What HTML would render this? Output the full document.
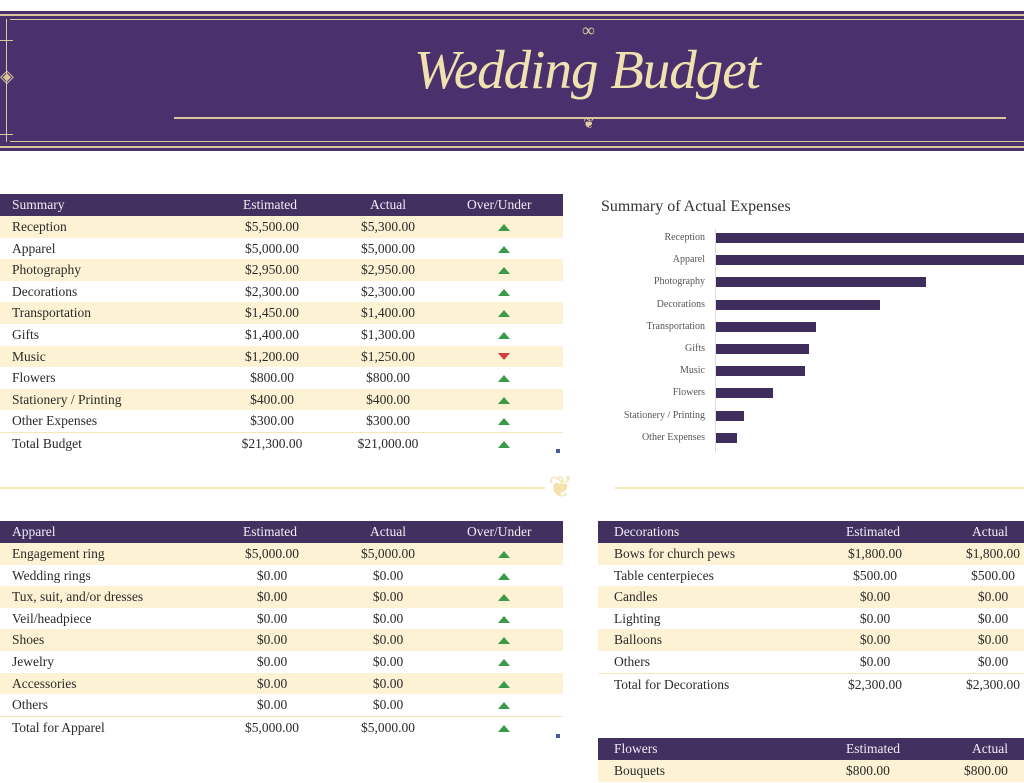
<!DOCTYPE html>
<html><head><meta charset="utf-8">
<style>
*{margin:0;padding:0;box-sizing:border-box}
body{width:1024px;height:777px;overflow:hidden;background:#fff;font-family:"Liberation Serif",serif;position:relative;color:#2a2a2a}
.banner{position:absolute;left:0;top:11px;width:1024px;height:140px;background:#4b306e;}
.ab{position:absolute}
.row{position:absolute;height:21.6px;font-size:13.5px;line-height:22.6px}
.hd{background:#413060;color:#f2ecf6}
.cr{background:#fdf2d3}
.c{position:absolute;white-space:nowrap}
.up{width:0;height:0;border-left:6px solid transparent;border-right:6px solid transparent;border-bottom:7px solid #3a9a4a;position:absolute;top:8px}
.dn{width:0;height:0;border-left:6px solid transparent;border-right:6px solid transparent;border-top:7px solid #d04040;position:absolute;top:7px}
.bar{position:absolute;left:716px;height:10px;background:#3f2d5e}
.lbl{position:absolute;right:319px;font-size:10px;color:#555;white-space:nowrap}
</style></head><body>
<div class="banner"></div>
<div class="ab" style="left:0;top:14px;width:1024px;height:2px;background:#d9c79a"></div>
<div class="ab" style="left:10px;top:19px;width:1014px;height:1px;background:#d9c79a"></div>
<div class="ab" style="left:0;top:146px;width:1024px;height:2px;background:#d9c79a"></div>
<div class="ab" style="left:10px;top:141px;width:1014px;height:1px;background:#d9c79a"></div>
<div class="ab" style="left:6px;top:19px;width:1px;height:123px;background:#d9c79a"></div>
<div class="ab" style="left:174px;top:117px;width:832px;height:2px;background:#d9c79a"></div>
<div class="ab" style="left:0;top:40px;width:13px;height:1px;background:#d9c79a"></div>
<div class="ab" style="left:0;top:134px;width:13px;height:1px;background:#d9c79a"></div>
<div class="ab" style="left:0;top:66px;color:#d9c79a;font-size:18px">◈</div>
<div class="ab" style="left:582px;top:20px;color:#e0cf9f;font-size:18px">∞</div>
<div class="ab" style="left:583px;top:116px;color:#e0cf9f;font-size:14px">❦</div>
<div class="ab" style="left:414px;top:38px;color:#f0e2b0;font-size:55px;font-style:italic;font-family:'Liberation Serif',serif;letter-spacing:-1px">Wedding Budget</div>

<div class="row hd" style="left:0;top:194px;width:563px"><span class="c" style="left:12px">Summary</span><span class="c" style="left:243px">Estimated</span><span class="c" style="left:370px">Actual</span><span class="c" style="left:467px">Over/Under</span></div>
<div id="sum"></div>

<div class="ab" style="left:0;top:487px;width:545px;height:2px;background:#f6e6b8"></div>
<div class="ab" style="left:615px;top:487px;width:409px;height:2px;background:#f6e6b8"></div>
<div class="ab" style="left:548px;top:470px;color:#f3e2aa;font-size:30px">❦</div>

<div class="ab" style="left:601px;top:198px;font-size:16px;color:#333">Summary of Actual Expenses</div>
<div class="ab" style="left:715px;top:229px;width:1px;height:223px;background:#ddd"></div>
<div id="chart"></div>

<div class="row hd" style="left:0;top:521px;width:563px"><span class="c" style="left:12px">Apparel</span><span class="c" style="left:243px">Estimated</span><span class="c" style="left:370px">Actual</span><span class="c" style="left:467px">Over/Under</span></div>
<div id="app"></div>

<div class="row hd" style="left:598px;top:521px;width:426px"><span class="c" style="left:16px">Decorations</span><span class="c" style="left:248px">Estimated</span><span class="c" style="left:374px">Actual</span></div>
<div id="dec"></div>

<div class="row hd" style="left:598px;top:738px;width:426px"><span class="c" style="left:16px">Flowers</span><span class="c" style="left:248px">Estimated</span><span class="c" style="left:374px">Actual</span></div>
<div class="row cr" style="left:598px;top:760px;width:426px"><span class="c" style="left:16px">Bouquets</span><span class="c" style="left:248px">$800.00</span><span class="c" style="left:366px">$800.00</span></div>

<script>
function tbl(id,top,rows,total){
 var h='';
 rows.forEach(function(r,i){
  var y=top+21.6*i, last=(i==rows.length-1&&total);
  var cls=last?'':(i%2==0?' cr':'');
  h+='<div class="row'+cls+'" style="left:0;top:'+y+'px;width:563px;'+(last?'border-top:1px solid #f6e6b8':'')+'">'+
  '<span class="c" style="left:12px">'+r[0]+'</span>'+
  '<span class="c" style="left:272px;transform:translateX(-50%)">'+r[1]+'</span>'+
  '<span class="c" style="left:388px;transform:translateX(-50%)">'+r[2]+'</span>'+
  '<span class="'+(r[3]?'dn':'up')+'" style="left:498px"></span></div>';
 });
 document.getElementById(id).innerHTML=h;
}
tbl('sum',216,[["Reception","$5,500.00","$5,300.00"],["Apparel","$5,000.00","$5,000.00"],["Photography","$2,950.00","$2,950.00"],["Decorations","$2,300.00","$2,300.00"],["Transportation","$1,450.00","$1,400.00"],["Gifts","$1,400.00","$1,300.00"],["Music","$1,200.00","$1,250.00",1],["Flowers","$800.00","$800.00"],["Stationery / Printing","$400.00","$400.00"],["Other Expenses","$300.00","$300.00"],["Total Budget","$21,300.00","$21,000.00"]],1);
tbl('app',543,[["Engagement ring","$5,000.00","$5,000.00"],["Wedding rings","$0.00","$0.00"],["Tux, suit, and/or dresses","$0.00","$0.00"],["Veil/headpiece","$0.00","$0.00"],["Shoes","$0.00","$0.00"],["Jewelry","$0.00","$0.00"],["Accessories","$0.00","$0.00"],["Others","$0.00","$0.00"],["Total for Apparel","$5,000.00","$5,000.00"]],1);
var d=[["Bows for church pews","$1,800.00","$1,800.00"],["Table centerpieces","$500.00","$500.00"],["Candles","$0.00","$0.00"],["Lighting","$0.00","$0.00"],["Balloons","$0.00","$0.00"],["Others","$0.00","$0.00"],["Total for Decorations","$2,300.00","$2,300.00"]],h='';
d.forEach(function(r,i){var last=i==6;h+='<div class="row'+(last?'':(i%2==0?' cr':''))+'" style="left:598px;top:'+(543+21.6*i)+'px;width:426px;'+(last?'border-top:1px solid #f6e6b8':'')+'"><span class="c" style="left:16px">'+r[0]+'</span><span class="c" style="left:277px;transform:translateX(-50%)">'+r[1]+'</span><span class="c" style="left:395px;transform:translateX(-50%)">'+r[2]+'</span></div>';});
document.getElementById('dec').innerHTML=h;
var c=[["Reception",5300],["Apparel",5000],["Photography",2950],["Decorations",2300],["Transportation",1400],["Gifts",1300],["Music",1250],["Flowers",800],["Stationery / Printing",400],["Other Expenses",300]];h='';
c.forEach(function(r,i){var y=238+22.2*i;h+='<div class="lbl" style="top:'+(y-6)+'px">'+r[0]+'</div><div class="bar" style="top:'+(y-5)+'px;width:'+Math.min(310,r[1]*0.0712)+'px"></div>';});
document.getElementById('chart').innerHTML=h;
</script>
<div class="ab" style="left:556px;top:449px;width:4px;height:4px;background:#4a5aa0"></div>
<div class="ab" style="left:556px;top:734px;width:4px;height:4px;background:#4a5aa0"></div>
</body></html>
